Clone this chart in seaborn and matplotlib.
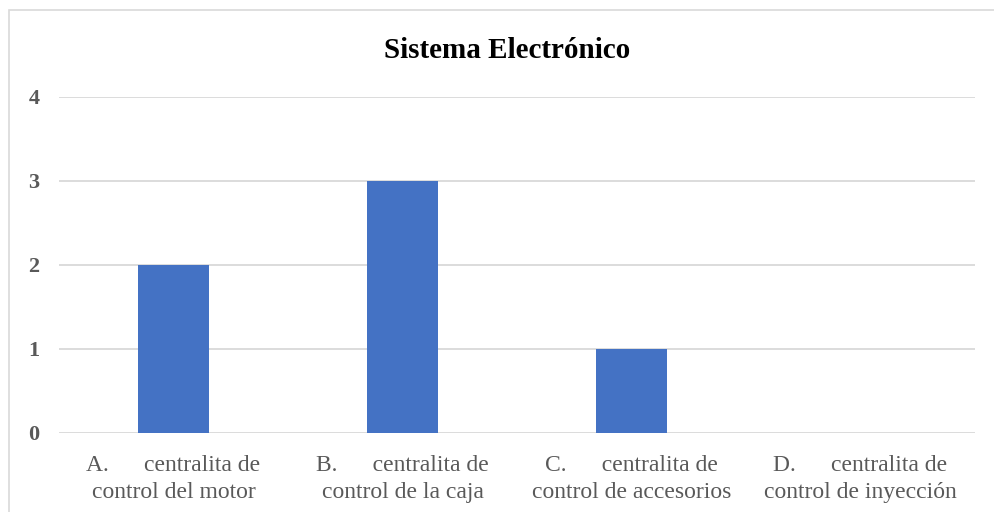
import matplotlib
matplotlib.use("Agg")
import matplotlib.pyplot as plt
import seaborn as sns
import pandas as pd
from matplotlib.patches import Rectangle

categories = ["A.      centralita de\ncontrol del motor",
              "B.      centralita de\ncontrol de la caja",
              "C.      centralita de\ncontrol de accesorios",
              "D.      centralita de\ncontrol de inyección"]
values = [2, 3, 1, 0]
yticks = [0, 1, 2, 3, 4]

sns.set_theme(style="white")
plt.rcParams['font.family'] = ['Liberation Serif', 'DejaVu Serif']

df = pd.DataFrame({"cat": categories, "val": values})

W, H = 994, 512
fig = plt.figure(figsize=(W/100, H/100), dpi=100)
ax = fig.add_axes([59/W, 1-433/H, (975-59)/W, (433-97)/H])

sns.barplot(data=df, x="cat", y="val", color="#4472C4", width=0.31,
            saturation=1, ax=ax, zorder=3, linewidth=0)

ax.set_ylim(0, 4)
ax.set_xlim(-0.5, 3.5)
ax.set_yticks(yticks)
ax.set_yticklabels([str(t) for t in yticks], fontsize=16, fontweight='bold', color='#595959')
ax.tick_params(axis='y', length=0, pad=14)
ax.tick_params(axis='x', length=0, pad=16)
for lbl in ax.get_xticklabels():
    lbl.set_fontsize(17)
    lbl.set_color('#595959')
    lbl.set_linespacing(1.38)
ax.set_xlabel("")
ax.set_ylabel("")
ax.yaxis.grid(True, color='#D9D9D9', linewidth=1.3, zorder=0)
ax.set_axisbelow(True)
for s in ax.spines.values():
    s.set_visible(False)

fig.text(507/W, 1-50/H, "Sistema Electrónico", ha='center', va='center',
         fontsize=21, fontweight='bold', color='black')

fig.patches.append(Rectangle((9/W, -0.1), 1.2, (512-10)/H + 0.1,
                             transform=fig.transFigure, fill=False,
                             edgecolor='#D9D9D9', linewidth=1.2))

fig.savefig("out.png", dpi=100)
